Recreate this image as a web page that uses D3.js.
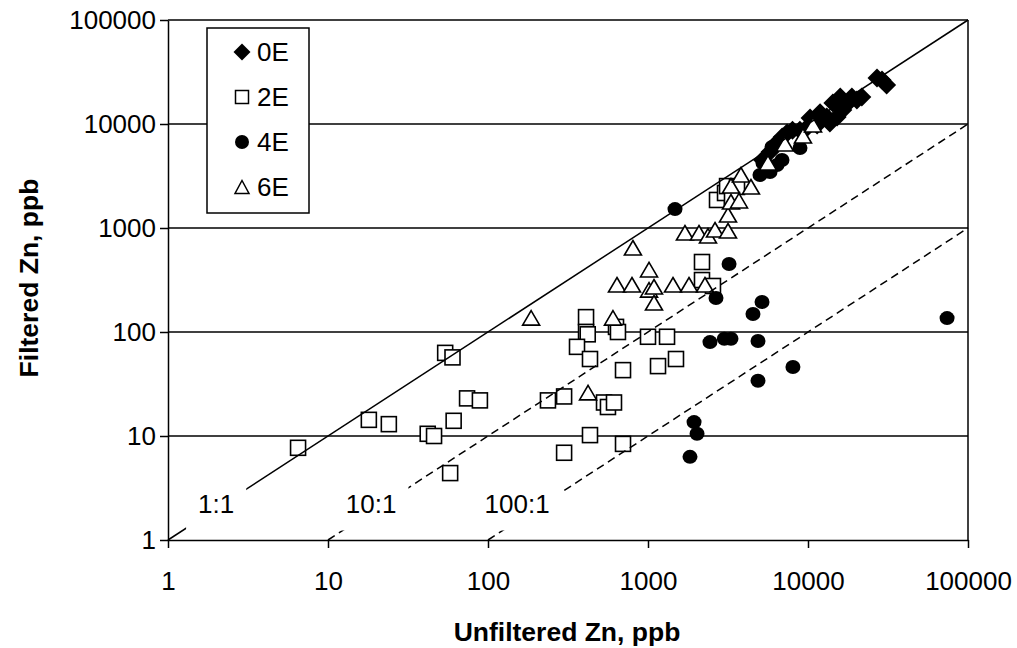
<!DOCTYPE html>
<html>
<head>
<meta charset="utf-8">
<script src="https://cdn.jsdelivr.net/npm/d3@7"></script>
<style>
  body { margin: 0; background: #fff; }
  text { font-family: "Liberation Sans", Arial, sans-serif; fill: #000; }
</style>
</head>
<body>
<svg width="1017" height="648"></svg>
<script>
// data: [unfiltered, filtered] in ppb
const series0E = [[5200,4500],[5800,5400],[6200,6300],[6900,7500],[7400,8200],[8000,8700],[8900,8700],
  [9900,9300],[10300,11400],[11400,9800],[11900,12800],[13100,11700],[13700,10200],[14300,15900],
  [15200,11700],[15900,18200],[16500,13600],[17800,15900],[18800,18200],[20200,17000],[21700,18200],
  [27000,27700],[29000,26500],[31000,23700]];
const series2E = [[6.5,7.7],[18,14.3],[24,13],[42,10.5],[46,10],[54,63],[60,57],[61,14],[58,4.4],
  [74,23],[89,22],[237,22],[299,24],[299,6.9],[410,139],[410,100],[420,95],[360,72],[434,55],
  [434,10.2],[531,21],[562,19],[613,21],[631,112],[649,100],[698,43],[698,8.4],[1000,90],[1315,90],
  [1155,47],[1496,55],[2175,471],[2175,316],[2547,277],[2700,1860],[3030,2170],[3120,2530],
  [3600,2480],[3350,1860]];
const series4E = [[1475,1520],[3210,450],[2660,212],[2440,80],[3000,86],[3300,86],[4870,82],
  [4530,149],[5160,194],[8050,46],[4870,34],[1940,13.6],[2025,10.5],[1830,6.3],[74000,136],
  [5010,3235],[5790,3455],[5230,4220],[5960,6010],[6880,4510],[8910,5875],[6400,4035]];
const series6E = [[186,136],[422,26],[604,136],[640,283],[794,283],[805,642],[1015,395],[1015,253],
  [1090,271],[1090,190],[1433,283],[1804,283],[2270,283],[1702,895],[2083,895],[2371,838],
  [2623,957],[3162,936],[3162,1333],[3300,1778],[3704,1820],[3300,2535],[3810,3233],[4400,2480],
  [5623,4217],[7180,6420],[9300,7670],[10750,9780]];

const legendNames = ['0E', '2E', '4E', '6E'];
const tickValues = [1, 10, 100, 1000, 10000, 100000];
const ratios = [1, 10, 100];
const ratioLabels = ['1:1', '10:1', '100:1'];
const ratioLabelPos = [[2.0, 2.2], [18.6, 2.2], [152, 2.2]];

const svg = d3.select('svg');
svg.append('rect').attr('width', 1017).attr('height', 648).attr('fill', '#fff');

const x = d3.scaleLog().domain([1, 100000]).range([168, 968]);
const y = d3.scaleLog().domain([1, 100000]).range([540, 20]);

// gridlines
svg.append('g').selectAll('line')
  .data(tickValues.slice(1))
  .enter().append('line')
    .attr('x1', 168).attr('x2', 968)
    .attr('y1', d => y(d)).attr('y2', d => y(d))
    .attr('stroke', '#000').attr('stroke-width', 1.5);

// right border
svg.append('line')
  .attr('x1', 968).attr('x2', 968).attr('y1', 20).attr('y2', 540)
  .attr('stroke', '#000').attr('stroke-width', 1.5);

// marker shapes
const diamond = 'M0,-9.5L9.5,0L0,9.5L-9.5,0Z';
const triangle = 'M0,-7.5L8.5,7L-8.5,7Z';

function drawSeries(data, kind) {
  const g = svg.append('g');
  const pts = g.selectAll('.pt').data(data).enter();
  if (kind === 0) {
    pts.append('path').attr('d', diamond)
      .attr('transform', d => `translate(${x(d[0])},${y(d[1])})`)
      .attr('fill', '#000');
  } else if (kind === 1) {
    pts.append('rect')
      .attr('x', d => x(d[0]) - 7.5).attr('y', d => y(d[1]) - 7.5)
      .attr('width', 15).attr('height', 15)
      .attr('fill', '#fff').attr('stroke', '#000').attr('stroke-width', 1.6);
  } else if (kind === 2) {
    pts.append('ellipse')
      .attr('cx', d => x(d[0])).attr('cy', d => y(d[1])).attr('rx', 7.5).attr('ry', 7)
      .attr('fill', '#000');
  } else {
    pts.append('path').attr('d', triangle)
      .attr('transform', d => `translate(${x(d[0])},${y(d[1])})`)
      .attr('fill', '#fff').attr('stroke', '#000').attr('stroke-width', 1.6);
  }
}
drawSeries(series0E, 0);
drawSeries(series2E, 1);
drawSeries(series4E, 2);
drawSeries(series6E, 3);

// ratio lines
svg.append('g').selectAll('line')
  .data(ratios)
  .enter().append('line')
    .attr('x1', d => x(d)).attr('y1', y(1))
    .attr('x2', x(100000)).attr('y2', d => y(100000 / d))
    .attr('stroke', '#000').attr('stroke-width', 1.5)
    .attr('stroke-dasharray', d => d === 1 ? null : '8,5');

// ratio labels with white boxes
ratioLabels.forEach((t, i) => {
  const g = svg.append('g');
  const box = g.append('rect').attr('fill', '#fff');
  const txt = g.append('text')
    .attr('x', x(ratioLabelPos[i][0])).attr('y', y(ratioLabelPos[i][1]))
    .attr('dy', '0.35em').attr('text-anchor', 'middle')
    .attr('font-size', 26).text(t);
  const b = txt.node().getBBox();
  box.attr('x', b.x - 12).attr('y', b.y - 11)
    .attr('width', b.width + 24).attr('height', b.height + 22);
});

// axes
const xAxis = svg.append('g').attr('transform', 'translate(0,540)')
  .call(d3.axisBottom(x).tickValues(tickValues).tickFormat(d3.format('d'))
    .tickSize(8).tickSizeOuter(0).tickPadding(24));
const yAxis = svg.append('g').attr('transform', 'translate(168,0)')
  .call(d3.axisLeft(y).tickValues(tickValues).tickFormat(d3.format('d'))
    .tickSize(8).tickSizeOuter(0).tickPadding(4));
[xAxis, yAxis].forEach(a => {
  a.select('.domain').attr('stroke', '#000').attr('stroke-width', 1.5);
  a.selectAll('.tick line').attr('stroke', '#000').attr('stroke-width', 1.5);
  a.selectAll('.tick text').attr('font-size', 26)
    .attr('font-family', '"Liberation Sans", Arial, sans-serif').attr('fill', '#000');
});

// axis titles
svg.append('text')
  .attr('x', 567).attr('y', 641)
  .attr('text-anchor', 'middle').attr('font-size', 26.5).attr('font-weight', 'bold')
  .text('Unfiltered Zn, ppb');
svg.append('text')
  .attr('transform', 'translate(38,278) rotate(-90)')
  .attr('text-anchor', 'middle').attr('font-size', 26.5).attr('font-weight', 'bold')
  .text('Filtered Zn, ppb');

// legend
const legend = svg.append('g');
legend.append('rect')
  .attr('x', 207).attr('y', 28).attr('width', 102).attr('height', 185)
  .attr('fill', '#fff').attr('stroke', '#000').attr('stroke-width', 1.5);
const rowY = [52, 97, 142, 187];
legendNames.forEach((name, i) => {
  const cx = 242, cy = rowY[i];
  if (i === 0) {
    legend.append('path').attr('d', 'M0,-8.5L8.5,0L0,8.5L-8.5,0Z').attr('transform', `translate(${cx},${cy})`).attr('fill', '#000');
  } else if (i === 1) {
    legend.append('rect').attr('x', cx - 6.5).attr('y', cy - 6.5).attr('width', 13).attr('height', 13)
      .attr('fill', '#fff').attr('stroke', '#000').attr('stroke-width', 1.5);
  } else if (i === 2) {
    legend.append('circle').attr('cx', cx).attr('cy', cy).attr('r', 7).attr('fill', '#000');
  } else {
    legend.append('path').attr('d', 'M0,-6.5L7,6.5L-7,6.5Z').attr('transform', `translate(${cx},${cy})`)
      .attr('fill', '#fff').attr('stroke', '#000').attr('stroke-width', 1.5);
  }
  legend.append('text')
    .attr('x', 257).attr('y', cy).attr('dy', '0.35em')
    .attr('font-size', 26).text(name);
});
</script>
</body>
</html>
